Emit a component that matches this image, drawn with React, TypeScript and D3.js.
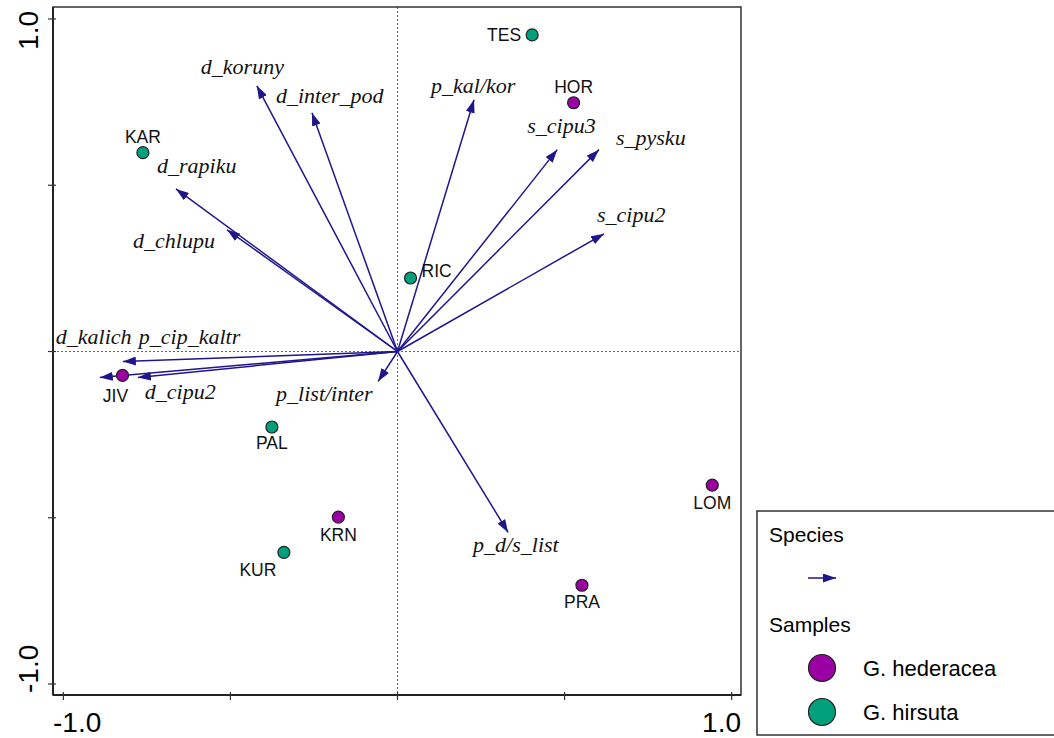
import * as d3 from "d3";

// sample scores (axis 1, axis 2)
const sampleNames = ["TES", "HOR", "KAR", "RIC", "JIV", "PAL", "KRN", "KUR", "PRA", "LOM"];
const sampleX = [0.403, 0.527, -0.762, 0.039, -0.823, -0.376, -0.177, -0.34, 0.552, 0.942];
const sampleY = [0.952, 0.748, 0.598, 0.221, -0.072, -0.227, -0.498, -0.604, -0.703, -0.402];
const sampleGroup = ["hirsuta", "hederacea", "hirsuta", "hirsuta", "hederacea", "hirsuta", "hederacea", "hirsuta", "hederacea", "hederacea"];

// species arrows
const speciesNames = [
  "d_koruny", "d_inter_pod", "p_kal/kor", "s_cipu3", "s_pysku", "s_cipu2", "d_rapiku",
  "d_chlupu", "p_cip_kaltr", "d_kalich", "d_cipu2", "p_list/inter", "p_d/s_list",
];
const speciesX = [-0.421, -0.256, 0.229, 0.478, 0.603, 0.618, -0.663, -0.51, -0.822, -0.891, -0.777, -0.058, 0.331];
const speciesY = [0.799, 0.718, 0.757, 0.607, 0.607, 0.354, 0.489, 0.366, -0.03, -0.078, -0.078, -0.09, -0.544];

const tickValues = [-1, -0.5, 0, 0.5, 1];
const groups = ["hederacea", "hirsuta"];
const groupLabels = ["G. hederacea", "G. hirsuta"];

// label placement (pixel offsets from the mark)
const sampleLabelPos: Record<string, [number, number, string]> = {
  TES: [-11, 6, "end"], HOR: [0, -10, "middle"], KAR: [0, -10, "middle"], RIC: [11, -1, "start"],
  JIV: [-7, 27, "middle"], PAL: [0, 22, "middle"], KRN: [0, 24, "middle"], KUR: [-26, 24, "middle"],
  PRA: [0, 23, "middle"], LOM: [0, 24, "middle"],
};
const speciesLabelPos: Record<string, [number, number]> = {
  d_koruny: [-56, -12], d_inter_pod: [-36, -10], "p_kal/kor": [-43, -7], s_cipu3: [-30, -17],
  s_pysku: [17, -5], s_cipu2: [-7, -12], d_rapiku: [-19, -16], d_chlupu: [-94, 18],
  p_cip_kaltr: [16, -17], d_kalich: [-44, -33], d_cipu2: [7, 22], "p_list/inter": [-102, 20],
  "p_d/s_list": [-35, 20],
};

const W = 1054;
const H = 738;
const arrowColor = "#1f168c";
const color = d3.scaleOrdinal<string, string>().domain(groups).range(["#9b00a3", "#00a07c"]);

export default function App() {
  const x = d3.scaleLinear().domain([-1.031, 1.028]).range([53, 741]);
  const y = d3.scaleLinear().domain([-1.033, 1.036]).range([695, 7]);
  const [x0, x1] = x.range();
  const [y0, y1] = y.range();
  const sans = "'Liberation Sans', Arial, sans-serif";
  const serif = "'Liberation Serif', 'Times New Roman', serif";

  return (
    <div style={{ position: "absolute", left: 0, top: 0 }}>
      <svg width={W} height={H} style={{ display: "block", background: "#fff" }}>
        <defs>
          <marker id="ah" markerUnits="userSpaceOnUse" viewBox="0 0 13 9" refX="13" refY="4.5"
            markerWidth="13" markerHeight="9" orient="auto">
            <path d="M0,0 L13,4.5 L0,9 Z" fill={arrowColor} />
          </marker>
        </defs>

        {/* zero lines */}
        <line x1={x(0)} x2={x(0)} y1={y1} y2={y0} stroke="#666" strokeWidth={1} strokeDasharray="2,2" />
        <line x1={x0} x2={x1} y1={y(0)} y2={y(0)} stroke="#666" strokeWidth={1} strokeDasharray="2,2" />

        {/* frame */}
        <rect x={x0} y={y1} width={x1 - x0} height={y0 - y1} fill="none" stroke="#333" strokeWidth={1.5} />
        <line x1={x0} x2={x0} y1={y1} y2={y0} stroke="#222" strokeWidth={2} />
        <line x1={x0} x2={x1} y1={y0} y2={y0} stroke="#222" strokeWidth={2} />

        {/* ticks */}
        {tickValues.map((t) => (
          <g key={"t" + t}>
            <line x1={x(t)} x2={x(t)} y1={y0 - 3} y2={y0 + 5} stroke="#333" strokeWidth={1.2} />
            <line x1={x0 - 5} x2={x0 + 3} y1={y(t)} y2={y(t)} stroke="#333" strokeWidth={1.2} />
          </g>
        ))}
        <text x={x0} y={732} fontFamily={sans} fontSize={28} textAnchor="start">-1.0</text>
        <text x={x1} y={732} fontFamily={sans} fontSize={28} textAnchor="end">1.0</text>
        <text transform={`translate(38,${y1 + 4}) rotate(-90)`} fontFamily={sans} fontSize={28} textAnchor="end">1.0</text>
        <text transform={`translate(38,${y0 - 2}) rotate(-90)`} fontFamily={sans} fontSize={28} textAnchor="start">-1.0</text>

        {/* species arrows */}
        {speciesNames.map((n, i) => (
          <line key={n} x1={x(0)} y1={y(0)} x2={x(speciesX[i])} y2={y(speciesY[i])}
            stroke={arrowColor} strokeWidth={1.5} markerEnd="url(#ah)" />
        ))}
        {speciesNames.map((n, i) => (
          <text key={"l" + n} x={x(speciesX[i]) + speciesLabelPos[n][0]} y={y(speciesY[i]) + speciesLabelPos[n][1]}
            fontFamily={serif} fontStyle="italic" fontSize={22} fill="#111">{n}</text>
        ))}

        {/* samples */}
        {sampleNames.map((n, i) => (
          <g key={n}>
            <circle cx={x(sampleX[i])} cy={y(sampleY[i])} r={6} fill={color(sampleGroup[i])} stroke="#222" strokeWidth={1.2} />
            <text x={x(sampleX[i]) + sampleLabelPos[n][0]} y={y(sampleY[i]) + sampleLabelPos[n][1]}
              textAnchor={sampleLabelPos[n][2]} fontFamily={sans} fontSize={17.5} fill="#111">{n}</text>
          </g>
        ))}

        {/* legend */}
        <rect x={757} y={511} width={320} height={224} fill="#fff" stroke="#333" strokeWidth={1.5} />
        <text x={769} y={542} fontFamily={sans} fontSize={21}>Species</text>
        <line x1={808} x2={836} y1={578} y2={578} stroke={arrowColor} strokeWidth={1.5} markerEnd="url(#ah)" />
        <text x={769} y={632} fontFamily={sans} fontSize={21}>Samples</text>
        {groups.map((g, i) => (
          <g key={g}>
            <circle cx={822} cy={668 + i * 44} r={13.5} fill={color(g)} stroke="#222" strokeWidth={1.2} />
            <text x={863} y={676 + i * 44} fontFamily={sans} fontSize={22}>{groupLabels[i]}</text>
          </g>
        ))}
      </svg>
    </div>
  );
}
